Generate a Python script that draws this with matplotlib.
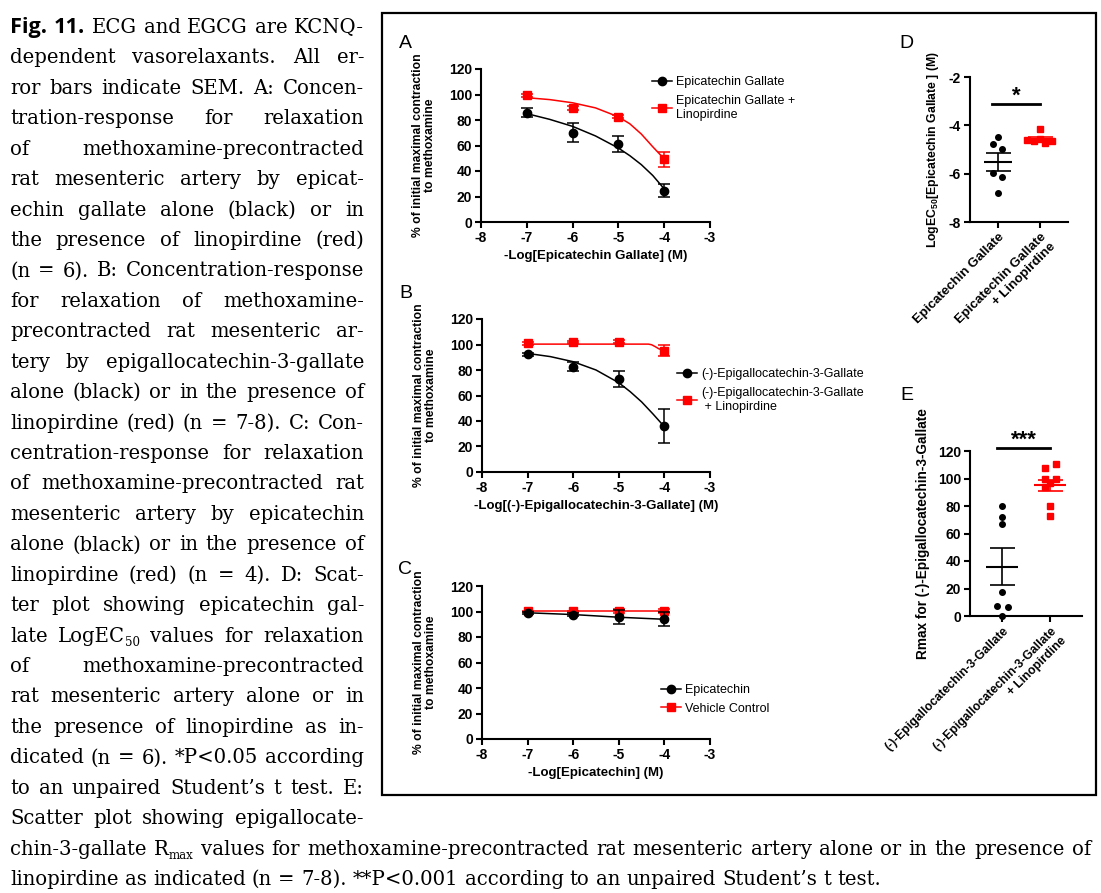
import re
import matplotlib
matplotlib.use('Agg')
import matplotlib.pyplot as plt
from matplotlib.patches import Rectangle

plt.rcParams['font.family'] = 'Liberation Sans'
plt.rcParams['font.weight'] = 'bold'
plt.rcParams['axes.labelweight'] = 'bold'
plt.rcParams['axes.unicode_minus'] = False
plt.rcParams['mathtext.fontset'] = 'custom'
plt.rcParams['mathtext.rm'] = 'Liberation Sans:bold'
plt.rcParams['mathtext.bf'] = 'Liberation Sans:bold'

W, H = 1101, 893
RED = '#ff0000'
SERIF = 'DejaVu Serif'

# ---------------- data ----------------
log_conc = [-7, -6, -5, -4]

# A: epicatechin gallate
ecg_mean = [85.6, 69.9, 61.2, 24.7]
ecg_sem = [3.5, 7.5, 6.5, 5.0]
ecg_lino_mean = [99.3, 89.3, 82.7, 49.1]
ecg_lino_sem = [1.0, 1.5, 1.5, 6.0]
fit_x_a = [-7, -6.5, -6, -5.5, -5, -4.75, -4.5, -4.25, -4]
ecg_fit = [85, 80.5, 75, 67.5, 58, 52, 45, 36.5, 26]
ecg_lino_fit = [97.5, 96, 93.5, 89.5, 82.5, 77, 69, 59, 49.5]

# B: (-)-epigallocatechin-3-gallate
egcg_mean = [92.2, 82.7, 73.0, 36.0]
egcg_sem = [1.5, 3.5, 6.3, 13.4]
egcg_lino_mean = [101.0, 101.9, 102.2, 95.1]
egcg_lino_sem = [1.0, 1.0, 1.0, 4.5]
fit_x_b = [-7, -6.5, -6, -5.5, -5, -4.75, -4.5, -4.25, -4]
egcg_fit = [93, 90.5, 86.5, 80, 70, 63, 55, 45.5, 35.5]
fit_x_b_lino = [-7, -4.35, -4.28, -4.2, -4.12, -4]
egcg_lino_fit = [100.3, 100.3, 99.8, 98.3, 96.6, 95.2]

# C: epicatechin
epi_mean = [99.0, 97.6, 95.5, 93.9]
epi_sem = [1.0, 1.5, 5.5, 5.6]
vehicle_mean = [100.2, 100.2, 100.2, 100.2]
vehicle_sem = [0.5, 0.5, 1.5, 1.5]

# D: LogEC50 of epicatechin gallate
d_groups = ['Epicatechin Gallate', 'Epicatechin Gallate\n+ Linopirdine']
d_ecg = [-4.48, -4.79, -4.97, -5.96, -6.12, -6.8]
d_ecg_lino = [-4.15, -4.6, -4.63, -4.55, -4.72, -4.65]
d_mean = [-5.51, -4.56]
d_sem = [0.37, 0.09]

# E: Rmax of EGCG
e_groups = ['(-)-Epigallocatechin-3-Gallate',
            '(-)-Epigallocatechin-3-Gallate\n+ Linopirdine']
e_egcg = [80, 72, 67, 17.5, 7.5, 6.3, 0]
e_egcg_lino = [107.3, 110.2, 99.5, 100, 94, 97, 80, 72.5]
e_mean = [35.8, 95.0]
e_sem = [13.4, 4.0]

# jitter used for the scatter display
d_jit = [[0, -0.12, 0.1, -0.12, 0.1, 0], [0, -0.3, -0.15, 0.0, 0.13, 0.28]]
e_jit = [[0, 0, 0, 0, -0.1, 0.12, 0], [-0.1, 0.12, -0.1, 0.12, -0.1, 0.0, 0.0, 0.0]]

caption_left = [
    "^Fig. ^11. ECG and EGCG are KCNQ-",
    "dependent vasorelaxants. All er-",
    "ror bars indicate SEM. A: Concen-",
    "tration-response for relaxation",
    "of methoxamine-precontracted",
    "rat mesenteric artery by epicat-",
    "echin gallate alone (black) or in",
    "the presence of linopirdine (red)",
    "(n = 6). B: Concentration-response",
    "for relaxation of methoxamine-",
    "precontracted rat mesenteric ar-",
    "tery by epigallocatechin-3-gallate",
    "alone (black) or in the presence of",
    "linopirdine (red) (n = 7-8). C: Con-",
    "centration-response for relaxation",
    "of methoxamine-precontracted rat",
    "mesenteric artery by epicatechin",
    "alone (black) or in the presence of",
    "linopirdine (red) (n = 4). D: Scat-",
    "ter plot showing epicatechin gal-",
    "late LogEC_{50} values for relaxation",
    "of methoxamine-precontracted",
    "rat mesenteric artery alone or in",
    "the presence of linopirdine as in-",
    "dicated (n = 6). *P<0.05 according",
    "to an unpaired Student\u2019s t test. E:",
    "Scatter plot showing epigallocate-",
]
caption_wide = ("chin-3-gallate R_{max} values for methoxamine-precontracted rat "
                "mesenteric artery alone or in the presence of")
caption_last = ("linopirdine as indicated (n = 7-8). **P<0.001 according to an "
                "unpaired Student\u2019s t test.")


def box(x0, y0, x1, y1):
    return [x0 / W, 1 - y1 / H, (x1 - x0) / W, (y1 - y0) / H]


fig = plt.figure(figsize=(W / 100, H / 100), dpi=100)
renderer = fig.canvas.get_renderer()


# ---------------- caption ----------------
def style_for(kind, fs):
    if kind == 'bold':
        return dict(family='Open Sans', weight='bold', size=fs * 1.1)
    if kind == 'sub':
        return dict(family=SERIF, weight='normal', size=fs * 0.6)
    return dict(family=SERIF, weight='normal', size=fs)


def measure(s, kind, fs):
    t = fig.text(0, 0, s, **style_for(kind, fs))
    w = t.get_window_extent(renderer).width
    t.remove()
    return w


def word_runs(word):
    if word.startswith('^'):
        return [(word[1:], 'bold')]
    parts = re.split(r'_\{(.*?)\}', word)
    return [(p, 'sub' if k % 2 else 'body') for k, p in enumerate(parts) if p]


def line_layout(line, fs):
    words = [word_runs(w) for w in line.split(' ')]
    widths = [[measure(s, k, fs) for s, k in runs] for runs in words]
    return words, widths


def space_w(fs):
    return measure('n n', 'body', fs) - measure('nn', 'body', fs)


def draw_line(line, x0, x1, base, fs, justify=True):
    words, widths = line_layout(line, fs)
    total = sum(sum(w) for w in widths)
    if justify and len(words) > 1:
        gap = (x1 - x0 - total) / (len(words) - 1)
    else:
        gap = space_w(fs)
    x = x0
    fs_px = fs * 100 / 72
    for runs, ws in zip(words, widths):
        for (s, k), w in zip(runs, ws):
            y = base + (0.22 * fs_px if k == 'sub' else 0)
            fig.text(x / W, 1 - y / H, s, ha='left', va='baseline',
                     **style_for(k, fs))
            x += w
        x += gap


fs0 = 14
nat = []
sp0 = space_w(fs0)
for ln in caption_left:
    wds, wid = line_layout(ln, fs0)
    nat.append(sum(sum(w) for w in wid) + sp0 * (len(wds) - 1))
cap_fs = min(16.5, fs0 * 353 / max(nat))

base0, step = 33, 30.43
for i, ln in enumerate(caption_left):
    draw_line(ln, 10, 364, base0 + i * step, cap_fs)
draw_line(caption_wide, 10, 1091, base0 + 27 * step, cap_fs)
draw_line(caption_last, 10, 1091, base0 + 28 * step, cap_fs, justify=False)

# ---------------- figure frame ----------------
fig.add_artist(Rectangle((382 / W, 1 - 795 / H), (1096 - 382) / W, (795 - 13) / H,
                         transform=fig.transFigure, fill=False, lw=1.6, ec='black'))

for letter, (px, py) in zip('ABCDE', [(405, 44), (406, 294), (405, 570),
                                      (906, 44), (907, 395)]):
    fig.text(px / W, 1 - py / H, letter, ha='center', va='center',
             fontsize=14, fontweight='normal')


def prism(ax):
    for s in ['top', 'right']:
        ax.spines[s].set_visible(False)
    for s in ['left', 'bottom']:
        ax.spines[s].set_linewidth(1.5)
    ax.tick_params(width=1.5, length=4.5, labelsize=10, pad=2)


ylab = '% of initial maximal contraction\nto methoxamine'


def curve_panel(ax, xlabel, black, red, fits, legend_labels, leg_anchor):
    (bm, bs), (rm, rs) = black, red
    for (fx, fy), col in zip(fits, ['black', RED]):
        ax.plot(fx, fy, color=col, lw=1.1, zorder=2)
    ax.errorbar(log_conc, rm, yerr=rs, fmt='s', color=RED, ms=5.5, capsize=4,
                elinewidth=1.1, capthick=1.1, zorder=3)
    ax.errorbar(log_conc, bm, yerr=bs, fmt='o', color='black', ms=6,
                capsize=4, elinewidth=1.1, capthick=1.1, zorder=4)
    ax.plot([], [], '-o', color='black', ms=6, lw=1.1, label=legend_labels[0])
    ax.plot([], [], '-s', color=RED, ms=5.5, lw=1.1, label=legend_labels[1])
    ax.set_xlim(-8, -3)
    ax.set_ylim(0, 120)
    ax.set_xticks(range(-8, -2))
    ax.set_yticks(range(0, 121, 20))
    prism(ax)
    ax.set_ylabel(ylab, fontsize=8.7, linespacing=1.0)
    ax.yaxis.set_label_coords(-0.197, 0.5)
    ax.set_xlabel(xlabel, fontsize=9.5)
    ax.xaxis.set_label_coords(0.5, -0.225)
    ax.xaxis.label.set_va('center')
    ax.legend(loc='upper left', bbox_to_anchor=leg_anchor, frameon=False,
              prop=dict(weight='normal', size=9), handlelength=1.6,
              handletextpad=0.35, borderaxespad=0, borderpad=0,
              labelspacing=0.55)


axA = fig.add_axes(box(481, 69, 710, 222))
curve_panel(axA, '-Log[Epicatechin Gallate] (M)',
            (ecg_mean, ecg_sem), (ecg_lino_mean, ecg_lino_sem),
            [(fit_x_a, ecg_fit), (fit_x_a, ecg_lino_fit)],
            ['Epicatechin Gallate', 'Epicatechin Gallate +\nLinopirdine'],
            (0.747, 0.955))

axB = fig.add_axes(box(482, 319, 710, 472))
curve_panel(axB, '-Log[(-)-Epigallocatechin-3-Gallate] (M)',
            (egcg_mean, egcg_sem), (egcg_lino_mean, egcg_lino_sem),
            [(fit_x_b, egcg_fit), (fit_x_b_lino, egcg_lino_fit)],
            ['(-)-Epigallocatechin-3-Gallate',
             '(-)-Epigallocatechin-3-Gallate\n + Linopirdine'],
            (0.855, 0.68))

axC = fig.add_axes(box(482, 586, 710, 739))
curve_panel(axC, '-Log[Epicatechin] (M)',
            (epi_mean, epi_sem), (vehicle_mean, vehicle_sem),
            [(log_conc, epi_mean), (log_conc, vehicle_mean)],
            ['Epicatechin', 'Vehicle Control'],
            (0.785, 0.36))


def scatter_panel(ax, groups, black, red, jit, means, sems, ms, tick_fs):
    for i, (vals, col, mk) in enumerate([(black, 'black', 'o'),
                                         (red, RED, 's')]):
        xs = [i + 1 + j for j in jit[i]]
        ax.plot(xs, vals, mk, color=col, ms=ms, ls='none', clip_on=False,
                zorder=3)
        ax.hlines(means[i], i + 1 - 0.33, i + 1 + 0.33, color=col, lw=1.5,
                  zorder=4)
        ax.errorbar(i + 1, means[i], yerr=sems[i], fmt='none', ecolor=col,
                    elinewidth=1.2, capsize=9, capthick=1.2, zorder=4)
    ax.set_xlim(1 / 3, 8 / 3)
    ax.set_xticks([1, 2])
    prism(ax)
    ax.set_xticklabels(groups, rotation=45, ha='right', rotation_mode='anchor',
                       fontsize=tick_fs, multialignment='right')


axD = fig.add_axes(box(970, 77, 1068, 222))
scatter_panel(axD, d_groups, d_ecg, d_ecg_lino, d_jit, d_mean, d_sem, 4, 9.5)
axD.set_ylim(-8, -2)
axD.set_yticks([-8, -6, -4, -2])
axD.set_ylabel('LogEC$_{50}$[Epicatechin Gallate ] (M)', fontsize=8.8)
axD.yaxis.set_label_coords(-0.30, 0.5)
axD.plot([0.86, 2.0], [-3.12, -3.12], color='black', lw=2, clip_on=False)
axD.text(1.43, -3.25, '*', ha='center', va='bottom', fontsize=16)

axE = fig.add_axes(box(970, 451, 1082, 616))
scatter_panel(axE, e_groups, e_egcg, e_egcg_lino, e_jit, e_mean, e_sem, 4, 8.7)
axE.set_ylim(0, 120)
axE.set_yticks(range(0, 121, 20))
axE.set_ylabel('Rmax for (-)-Epigallocatechin-3-Gallate', fontsize=9.8)
axE.yaxis.set_label_coords(-0.36, 0.5)
axE.plot([0.9, 2.0], [122, 122], color='black', lw=2, clip_on=False)
axE.text(1.45, 120.5, '***', ha='center', va='bottom', fontsize=16)

fig.savefig('out.png', dpi=100)
